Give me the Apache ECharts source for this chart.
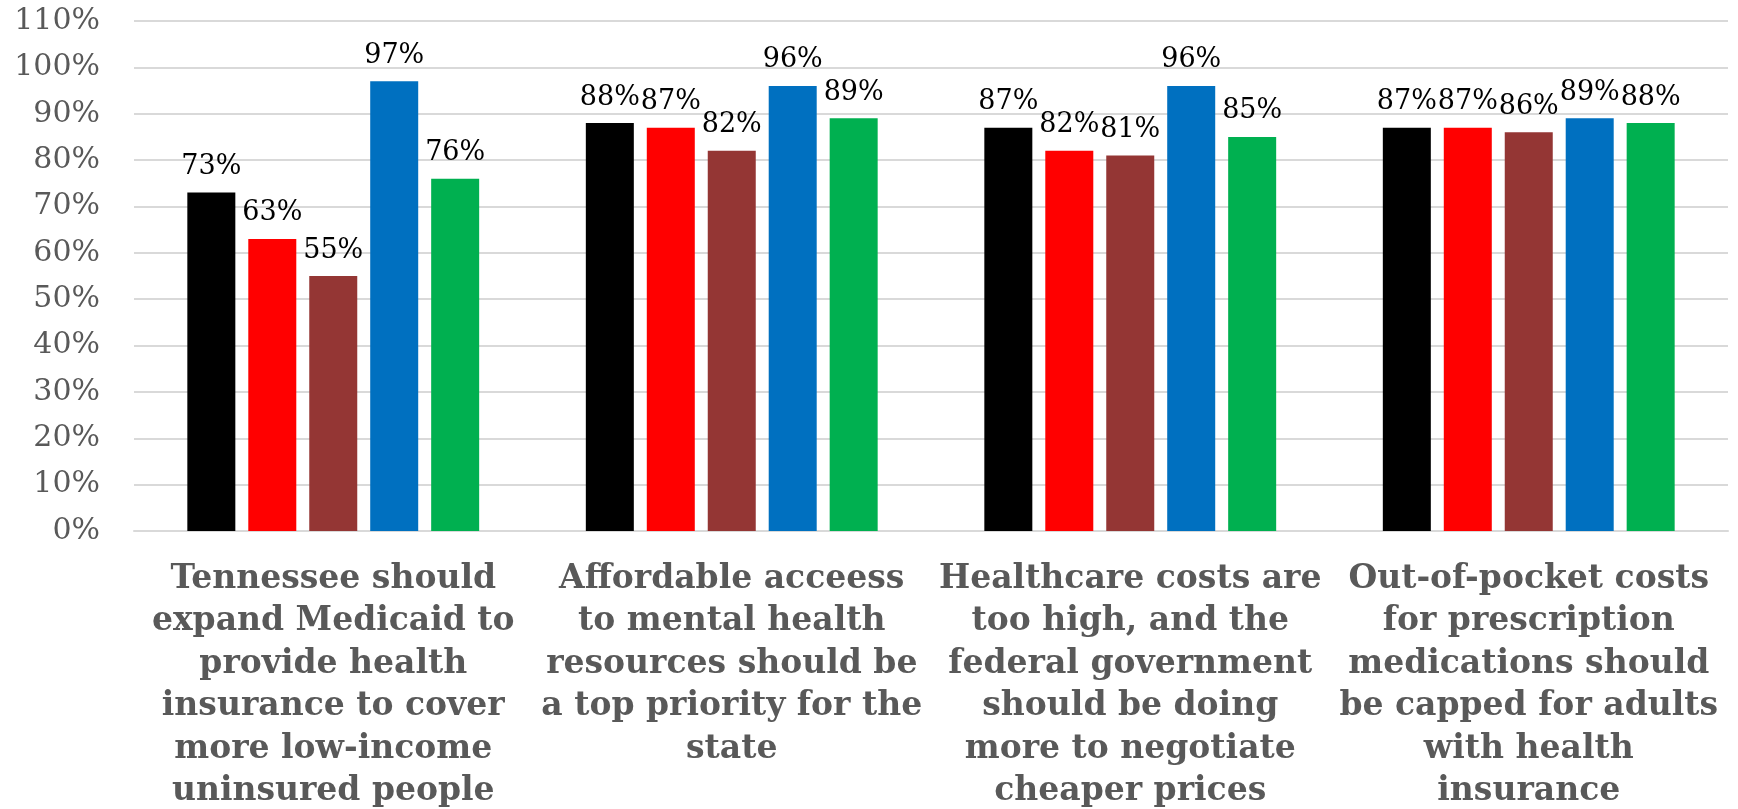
<!DOCTYPE html>
<html>
<head>
<meta charset="utf-8">
<script src="https://cdn.jsdelivr.net/npm/echarts@6/dist/echarts.min.js"></script>
<style>html,body{margin:0;padding:0;background:#fff}#c{width:1738px;height:809px}</style>
</head>
<body>
<div id="c"></div>
<script>
const categories = [
  "Tennessee should\nexpand Medicaid to\nprovide health\ninsurance to cover\nmore low-income\nuninsured people",
  "Affordable acceess\nto mental health\nresources should be\na top priority for the\nstate",
  "Healthcare costs are\ntoo high, and the\nfederal government\nshould be doing\nmore to negotiate\ncheaper prices",
  "Out-of-pocket costs\nfor prescription\nmedications should\nbe capped for adults\nwith health\ninsurance"
];
const seriesNames = ["Series 1", "Series 2", "Series 3", "Series 4", "Series 5"];
const s1 = [73, 88, 87, 87];
const s2 = [63, 87, 82, 87];
const s3 = [55, 82, 81, 86];
const s4 = [97, 96, 96, 89];
const s5 = [76, 89, 85, 88];
const colors = ["#000000", "#FF0000", "#943634", "#0070C0", "#00B050"];
const yTicks = { min: 0, max: 110, interval: 10 };

const chart = echarts.init(document.getElementById('c'));
const data = [s1, s2, s3, s4, s5];
chart.setOption({
  animation: false,
  grid: { left: 134, right: 10, top: 21, bottom: 278, containLabel: false, outerBoundsMode: 'none' },
  xAxis: {
    type: 'category',
    data: categories,
    axisLine: { show: true, lineStyle: { color: '#D9D9D9', width: 2 } },
    axisTick: { show: false },
    axisLabel: {
      interval: 0,
      color: '#595959',
      fontFamily: 'DejaVu Serif',
      fontWeight: 'bold',
      fontSize: 33,
      lineHeight: 42.5,
      margin: 27,
      align: 'center'
    }
  },
  yAxis: {
    type: 'value',
    min: yTicks.min, max: yTicks.max, interval: yTicks.interval,
    axisLine: { show: false },
    axisTick: { show: false },
    splitLine: { lineStyle: { color: '#D9D9D9', width: 2 } },
    axisLabel: {
      formatter: '{value}%',
      color: '#595959',
      fontFamily: 'DejaVu Serif',
      fontSize: 30,
      margin: 34
    }
  },
  series: data.map((d, i) => ({
    name: seriesNames[i],
    type: 'bar',
    data: d,
    barWidth: 48,
    barGap: '27%',
    itemStyle: { color: colors[i] },
    label: {
      show: true,
      position: 'top',
      distance: 12,
      formatter: '{c}%',
      color: '#000000',
      fontFamily: 'DejaVu Serif',
      fontSize: 27
    }
  }))
});
</script>
</body>
</html>
